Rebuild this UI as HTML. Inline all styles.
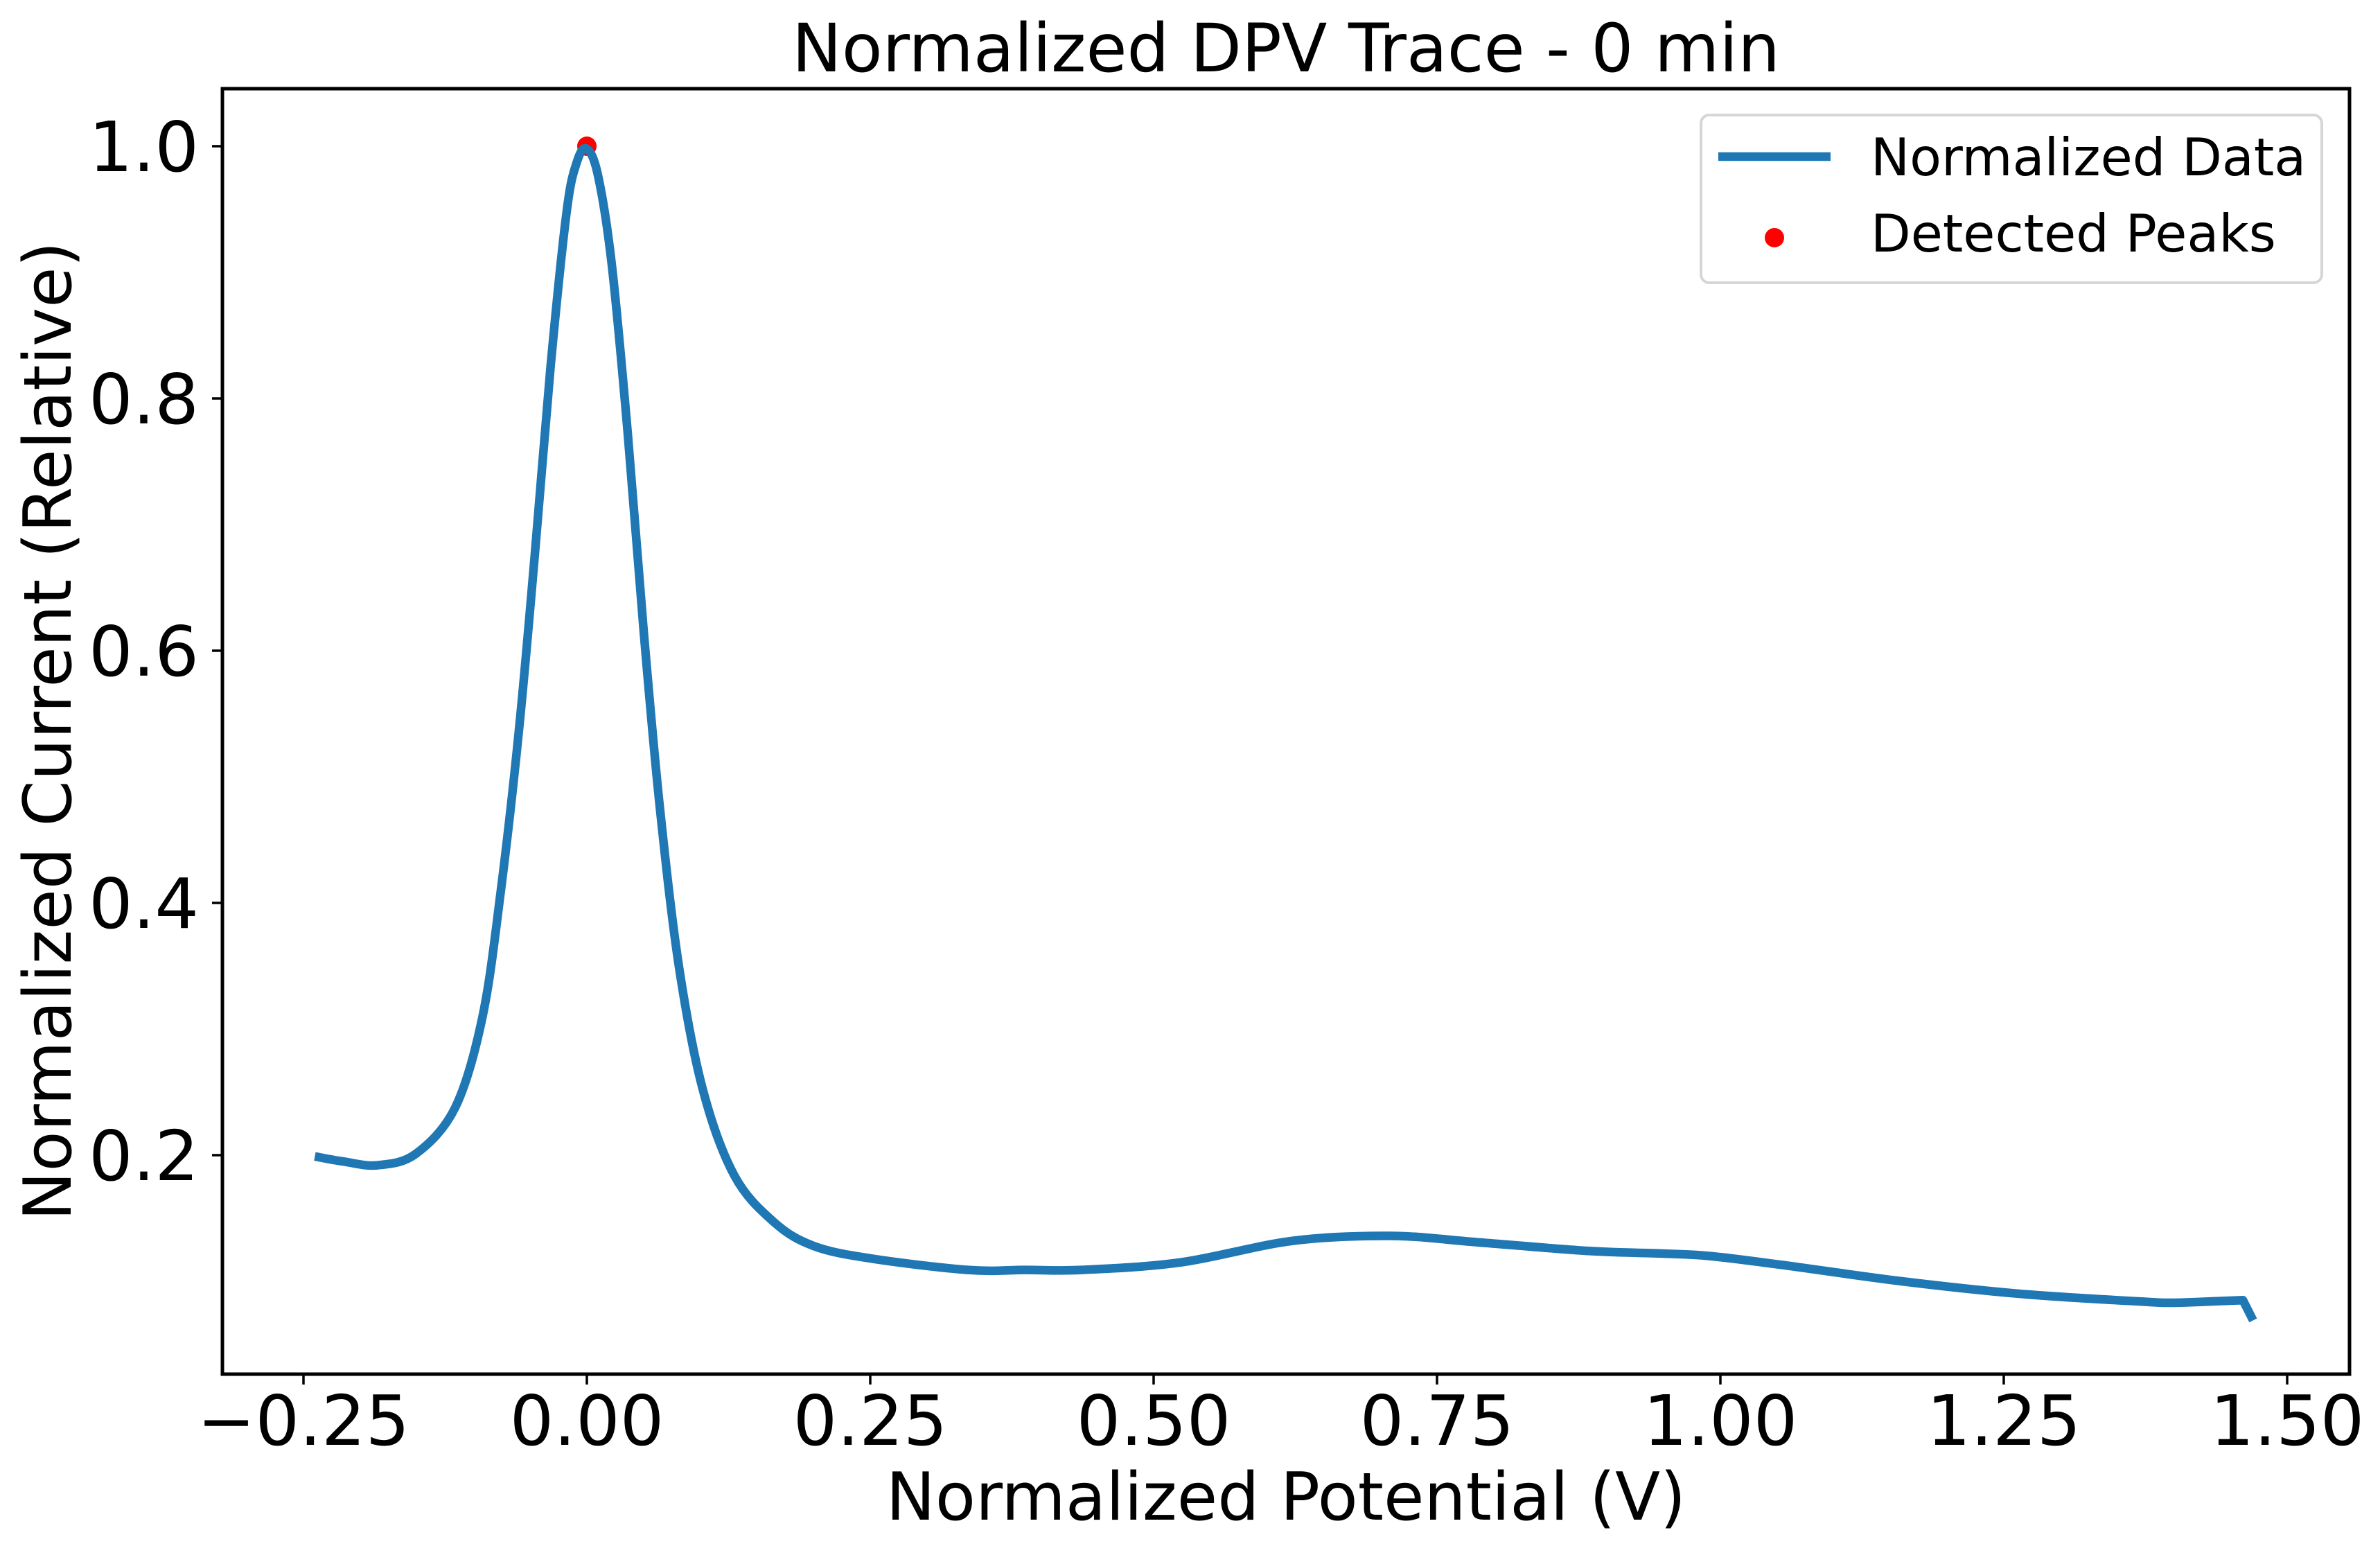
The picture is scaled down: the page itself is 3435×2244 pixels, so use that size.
<!DOCTYPE html>
<html><head><meta charset="utf-8">
<style>
html,body{margin:0;padding:0;background:#fff;}
svg{display:block;}
text{font-family:"DejaVu Sans","Liberation Sans",sans-serif;fill:#000;}
</style></head>
<body>
<svg id="chart" width="3435" height="2244" viewBox="0 0 3435 2244" xmlns="http://www.w3.org/2000/svg">
<rect x="0" y="0" width="3435" height="2244" fill="#fff"/>
<text x="1856" y="103" font-size="96" text-anchor="middle">Normalized DPV Trace - 0 min</text>
<g id="plot"></g>
<g id="xticks"></g>
<g id="yticks"></g>
<rect x="321" y="128" width="3070" height="1855" fill="none" stroke="#000" stroke-width="5"/>
<text x="1856" y="2193" font-size="95" text-anchor="middle">Normalized Potential (V)</text>
<text transform="translate(102,1055) rotate(-90)" x="0" y="0" font-size="95" text-anchor="middle">Normalized Current (Relative)</text>
<g>
<rect x="2455" y="166" width="896" height="242" rx="12" fill="#fff" fill-opacity="0.8" stroke="#d6d6d6" stroke-width="4"/>
<line x1="2480" y1="226" x2="2642" y2="226" stroke="#1f77b4" stroke-width="12.5"/>
<text x="2700" y="253" font-size="75">Normalized Data</text>
<circle cx="2561" cy="343" r="14" fill="#ff0000"/>
<text x="2700" y="363" font-size="75">Detected Peaks</text>
</g>
</svg>
<script>
const potentials = [-0.240,-0.215,-0.185,-0.151,-0.116,-0.092,-0.076,-0.060,-0.046,-0.032,-0.018,-0.009,0.000,0.010,0.022,0.036,0.050,0.064,0.081,0.102,0.130,0.165,0.200,0.251,0.336,0.387,0.436,0.524,0.622,0.709,0.785,0.884,0.949,0.991,1.054,1.160,1.265,1.370,1.405,1.461,1.470];
const currents   = [0.199,0.195,0.192,0.201,0.238,0.310,0.409,0.536,0.675,0.825,0.947,0.987,0.998,0.976,0.906,0.773,0.617,0.479,0.351,0.253,0.184,0.147,0.128,0.118,0.109,0.109,0.109,0.115,0.132,0.136,0.131,0.124,0.122,0.120,0.113,0.100,0.090,0.084,0.083,0.085,0.069];
const peakX = [0.000];
const peakY = [1.000];
const xTickValues = [-0.25,0,0.25,0.5,0.75,1.0,1.25,1.5];
const xTickLabels = ["\u22120.25","0.00","0.25","0.50","0.75","1.00","1.25","1.50"];
const yTickValues = [0.2,0.4,0.6,0.8,1.0];
const yTickLabels = ["0.2","0.4","0.6","0.8","1.0"];

const NS="http://www.w3.org/2000/svg";
function xs(v){return 847+(v-0)*1636;}
function ys(v){return 211+(1-v)*1820;}
function mk(tag,attrs){const e=document.createElementNS(NS,tag);for(const k in attrs)e.setAttribute(k,attrs[k]);return e;}

const plot=document.getElementById('plot');
const pts=potentials.map((p,i)=>[xs(p),ys(currents[i])]);
let d="M"+pts[0][0].toFixed(1)+","+pts[0][1].toFixed(1);
for(let i=0;i<pts.length-1;i++){
  const p0=pts[Math.max(0,i-1)],p1=pts[i],p2=pts[i+1],p3=pts[Math.min(pts.length-1,i+2)];
  const t=(i>=pts.length-3)?0:1/6;
  const c1=[p1[0]+(p2[0]-p0[0])*t,p1[1]+(p2[1]-p0[1])*t];
  const c2=[p2[0]-(p3[0]-p1[0])*t,p2[1]-(p3[1]-p1[1])*t];
  d+=" C"+c1[0].toFixed(1)+","+c1[1].toFixed(1)+" "+c2[0].toFixed(1)+","+c2[1].toFixed(1)+" "+p2[0].toFixed(1)+","+p2[1].toFixed(1);
}
const path=mk('path',{d:d,fill:'none',stroke:'#1f77b4','stroke-width':12.5,'stroke-linejoin':'round'});


for(let i=0;i<peakX.length;i++){
  const c=mk('circle',{cx:xs(peakX[i]),cy:ys(peakY[i]),r:14,fill:'#ff0000'});
  
  
  plot.appendChild(c);
}
plot.appendChild(path);

const xg=document.getElementById('xticks');
xTickValues.forEach((v,i)=>{
  const x=xs(v);
  const l=mk('line',{x1:x,y1:1983,x2:x,y2:1998,stroke:'#000','stroke-width':3.5});
  
  
  xg.appendChild(l);
  const t=mk('text',{x:x,y:2085,'font-size':100,'text-anchor':'middle'});
  t.textContent=xTickLabels[i];
  
  
  xg.appendChild(t);
});
const yg=document.getElementById('yticks');
yTickValues.forEach((v,i)=>{
  const y=ys(v);
  const l=mk('line',{x1:306,y1:y,x2:321,y2:y,stroke:'#000','stroke-width':3.5});
  
  
  yg.appendChild(l);
  const t=mk('text',{x:287,y:y+36,'font-size':100,'text-anchor':'end'});
  t.textContent=yTickLabels[i];
  
  
  yg.appendChild(t);
});
</script>
</body></html>
